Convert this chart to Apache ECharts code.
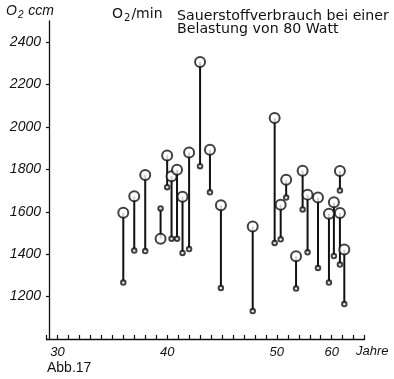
<!DOCTYPE html>
<html>
<head>
<meta charset="utf-8">
<script src="https://cdn.jsdelivr.net/npm/echarts@6/dist/echarts.min.js"></script>
<style>
html,body{margin:0;padding:0;background:#fff;}
#chart{width:394px;height:379px;}
</style>
</head>
<body>
<div id="chart"></div>
<script>
// ---- data ----
// age (Jahre) of each person
const ages = [36, 37, 38, 39.4, 40, 40.4, 40.9, 41.4, 42, 43, 43.9, 44.9, 47.8, 49.8,
              50.7, 51.7, 53.5, 54.7, 55.6, 57.5, 59.5, 60.4, 61.5, 61.5, 62.3];
// O2 ccm/min marked with the large open circle
const circleO2 = [1596, 1673, 1774, 1473, 1866, 1768, 1798, 1671, 1880, 2307, 1893, 1631, 1531, 2042,
                  1633, 1751, 1390, 1794, 1681, 1667, 1591, 1645, 1793, 1594, 1422];
// O2 ccm/min marked with the small dot
const dotO2 = [1266, 1417, 1415, 1616, 1716, 1473, 1473, 1406, 1424, 1815, 1692, 1241, 1132, 1453,
               1470, 1667, 1238, 1611, 1409, 1335, 1266, 1392, 1700, 1351, 1165];
const xLabelYears = [30, 40, 50, 60];
const yTickValues = [1200, 1400, 1600, 1800, 2000, 2200, 2400];

// the original age axis is compressed by factor 2 beyond 50 years
function ageToAxis(a) { return a <= 50 ? a : 50 + (a - 50) / 2; }
function axisToAge(u) { return u <= 50 ? u : 50 + (u - 50) * 2; }

const FONT = 'Liberation Sans';
const TFONT = 'DejaVu Sans';
const lineData = ages.map((a, i) => [ageToAxis(a), circleO2[i], dotO2[i]]);
const circleData = ages.map((a, i) => [ageToAxis(a), circleO2[i]]);
const dotData = ages.map((a, i) => [ageToAxis(a), dotO2[i]]);

const chart = echarts.init(document.getElementById('chart'), null, {renderer: 'canvas'});
chart.setOption({
  backgroundColor: '#fff',
  animation: false,
  grid: {left: 46.5, right: 29.4, top: 21, bottom: 40},
  xAxis: {
    type: 'value', min: 29, max: 58, interval: 1,
    axisLine: {show: true, lineStyle: {color: '#111', width: 1.3}},
    axisTick: {show: true, inside: true, length: 4, lineStyle: {color: '#111', width: 1.2}},
    splitLine: {show: false},
    axisLabel: {
      show: true, interval: 0, margin: 7,
      fontFamily: FONT, fontStyle: 'italic', fontSize: 13, color: '#111',
      showMinLabel: true, showMaxLabel: true,
      formatter: function (v) {
        const age = Math.round(axisToAge(v));
        return xLabelYears.indexOf(age) >= 0 && Math.abs(axisToAge(v) - age) < 1e-6 ? String(age) : '';
      }
    }
  },
  yAxis: {
    type: 'value', min: 1000, max: 2500, interval: 200, offset: -2.5,
    axisLine: {show: true, lineStyle: {color: '#111', width: 1.3}},
    axisTick: {show: true, inside: false, length: 3, lineStyle: {color: '#111', width: 1.2}},
    splitLine: {show: false},
    axisLabel: {
      margin: 8, fontFamily: FONT, fontStyle: 'italic', fontSize: 14, color: '#111',
      showMaxLabel: false,
      formatter: function (v) { return yTickValues.indexOf(v) >= 0 ? String(v) : ''; }
    }
  },
  graphic: [
    {type: 'text', left: 6, top: 4, style: {
      text: '{a|O}{s|2}{a| ccm}', fontFamily: FONT,
      rich: {a: {fontFamily: FONT, fontStyle: 'italic', fontSize: 14, fill: '#111'},
             s: {fontFamily: FONT, fontStyle: 'italic', fontSize: 10, fill: '#111', padding: [8, 1, 0, 1]}}
    }},
    {type: 'text', left: 112, top: 7, style: {
      text: '{a|O}{s|2}{a|/min}', fontFamily: TFONT,
      rich: {a: {fontFamily: TFONT, fontSize: 14, fill: '#111'},
             s: {fontFamily: TFONT, fontSize: 10, fill: '#111', padding: [8, 1, 0, 1]}}
    }},
    {type: 'text', left: 177, top: 9, style: {
      text: 'Sauerstoffverbrauch bei einer\nBelastung von 80 Watt',
      fontFamily: TFONT, fontSize: 14.2, lineHeight: 13.5, fill: '#111'
    }},
    {type: 'text', left: 356, top: 345, style: {
      text: 'Jahre', fontFamily: FONT, fontStyle: 'italic', fontSize: 13, fill: '#111'
    }},
    {type: 'text', left: 47, top: 361, style: {
      text: 'Abb.17', fontFamily: FONT, fontSize: 14, fill: '#111'
    }}
  ],
  series: [
    {
      type: 'custom', data: lineData, z: 1,
      renderItem: function (params, api) {
        const p1 = api.coord([api.value(0), api.value(1)]);
        const p2 = api.coord([api.value(0), api.value(2)]);
        return {type: 'line', shape: {x1: p1[0], y1: p1[1], x2: p2[0], y2: p2[1]},
                style: {stroke: '#111', lineWidth: 2}};
      },
      encode: {x: 0, y: [1, 2]}
    },
    {
      type: 'scatter', data: circleData, z: 3, symbol: 'emptyCircle', symbolSize: 10,
      itemStyle: {color: '#111', borderColor: '#111', borderWidth: 1.3}
    },
    {
      type: 'scatter', data: dotData, z: 3, symbol: 'emptyCircle', symbolSize: 4.5,
      itemStyle: {color: '#111', borderColor: '#111', borderWidth: 1.2}
    }
  ]
});
</script>
</body>
</html>
